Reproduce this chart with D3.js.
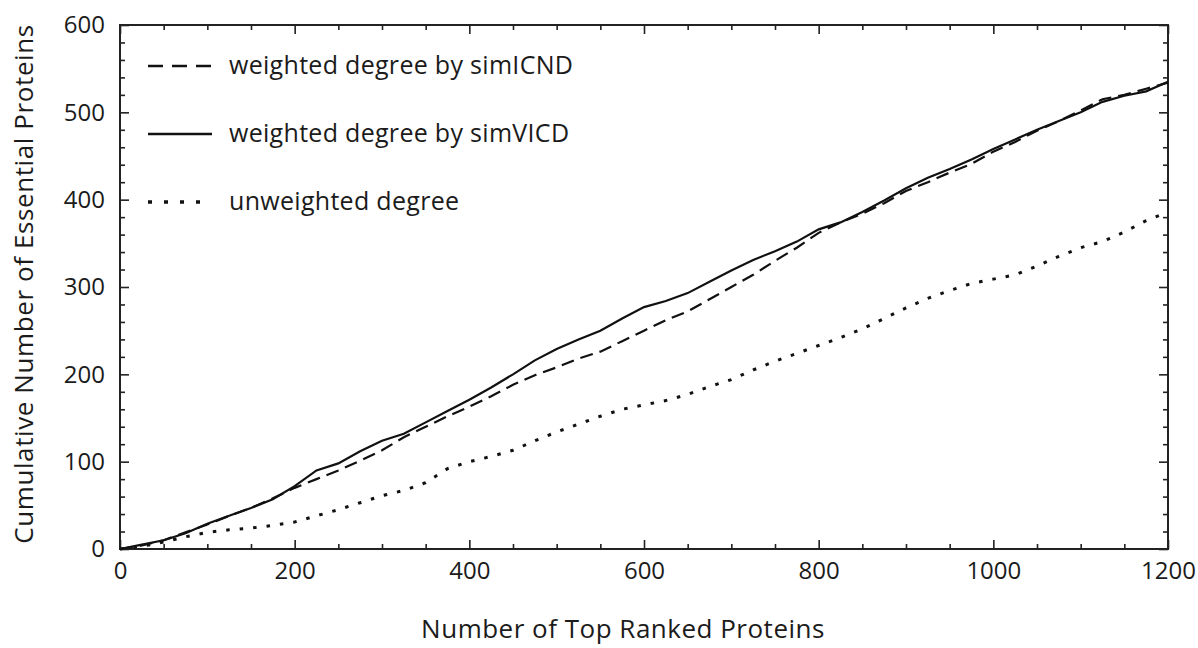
<!DOCTYPE html>
<html>
  <head>
    <meta charset="utf-8" />
    <title>cumulative essential proteins</title>
    <script src="https://cdn.jsdelivr.net/npm/d3@7"></script>
    <style type="text/css">
      body { margin: 0; background: #fff; }
      text { font-family: "Open Sans", "Noto Sans", sans-serif; fill: #1b1b1b; }
    </style>
  </head>

  <body>
    <svg id="chart" width="1198" height="648"></svg>
    <script type="text/javascript">
      // top ranked proteins (x)
      var ranks = [0, 25, 50, 75, 100, 125, 150, 175, 200, 225, 250, 275, 300, 325, 350, 375, 400,
        425, 450, 475, 500, 525, 550, 575, 600, 625, 650, 675, 700, 725, 750, 775, 800,
        825, 850, 875, 900, 925, 950, 975, 1000, 1025, 1050, 1075, 1100, 1125, 1150, 1175, 1200];

      // weighted degree by simICND (dashed)
      var simICND = [0, 4, 10, 19, 28, 38, 47, 58, 70, 80, 90, 101, 113, 128, 140, 152, 163,
        175, 188, 199, 208, 218, 226, 238, 250, 262, 272, 286, 300, 314, 330, 345, 362,
        374, 384, 396, 410, 420, 431, 441, 455, 466, 479, 490, 502, 515, 520, 527, 534];

      // weighted degree by simVICD (solid)
      var simVICD = [0, 5, 10, 18, 29, 38, 47, 57, 72, 90, 98, 112, 124, 132, 145, 158, 171,
        185, 200, 216, 229, 240, 250, 264, 277, 284, 293, 306, 319, 331, 341, 352, 366,
        374, 386, 399, 413, 425, 435, 446, 458, 469, 480, 490, 500, 512, 519, 524, 535];

      // unweighted degree (dotted)
      var unweighted = [0, 3, 8, 14, 19, 22, 24, 27, 31, 38, 45, 53, 61, 67, 76, 92, 100,
        106, 113, 124, 134, 143, 152, 160, 165, 170, 177, 186, 194, 205, 215, 224, 233,
        242, 252, 264, 276, 287, 296, 304, 309, 314, 324, 335, 345, 352, 363, 376, 386];

      var xMajor = [0, 200, 400, 600, 800, 1000, 1200];
      var yMajor = [0, 100, 200, 300, 400, 500, 600];

      var series = [
        { name: 'weighted degree by simICND', values: simICND, kind: 'dash' },
        { name: 'weighted degree by simVICD', values: simVICD, kind: 'solid' },
        { name: 'unweighted degree', values: unweighted, kind: 'dot' }
      ];

      var plotDash = { dash: '13,7', solid: null, dot: '3.5,10' };
      var keyDash = { dash: '15,9', solid: null, dot: '4,12' };
      var widths = { dash: 2.2, solid: 2.2, dot: 3 };

      var svg = d3.select('#chart');

      var x = d3.scaleLinear().domain([0, 1200]).range([120, 1168]);
      var y = d3.scaleLinear().domain([0, 600]).range([549, 25]);

      var xMinor = d3.range(0, 1201, 50).filter((d) => d % 200 !== 0);
      var yMinor = d3.range(0, 601, 20).filter((d) => d % 100 !== 0);

      function styleAxis(g) {
        g.select('.domain').remove();
        g.selectAll('line').attr('stroke', '#222').attr('stroke-width', 1.6);
      }

      // minor ticks, all four sides, pointing inward
      svg.append('g').attr('transform', 'translate(0,549)')
        .call(d3.axisBottom(x).tickValues(xMinor).tickSize(-5).tickFormat(''))
        .call(styleAxis);
      svg.append('g').attr('transform', 'translate(0,25)')
        .call(d3.axisTop(x).tickValues(xMinor).tickSize(-5).tickFormat(''))
        .call(styleAxis);
      svg.append('g').attr('transform', 'translate(120,0)')
        .call(d3.axisLeft(y).tickValues(yMinor).tickSize(-5).tickFormat(''))
        .call(styleAxis);
      svg.append('g').attr('transform', 'translate(1168,0)')
        .call(d3.axisRight(y).tickValues(yMinor).tickSize(-5).tickFormat(''))
        .call(styleAxis);

      // major ticks
      svg.append('g').attr('transform', 'translate(0,549)')
        .call(d3.axisBottom(x).tickValues(xMajor).tickSize(-9).tickPadding(13).tickFormat(d3.format('d')))
        .call(styleAxis)
        .selectAll('text').attr('font-size', 24);
      svg.append('g').attr('transform', 'translate(0,25)')
        .call(d3.axisTop(x).tickValues(xMajor).tickSize(-9).tickFormat(''))
        .call(styleAxis);
      svg.append('g').attr('transform', 'translate(120,0)')
        .call(d3.axisLeft(y).tickValues(yMajor).tickSize(-9).tickPadding(15).tickFormat(d3.format('d')))
        .call(styleAxis)
        .selectAll('text').attr('font-size', 24);
      svg.append('g').attr('transform', 'translate(1168,0)')
        .call(d3.axisRight(y).tickValues(yMajor).tickSize(-9).tickFormat(''))
        .call(styleAxis);

      // frame
      svg.append('rect')
        .attr('x', 120).attr('y', 25)
        .attr('width', 1168 - 120).attr('height', 549 - 25)
        .attr('fill', 'none').attr('stroke', '#222').attr('stroke-width', 2);

      var lineMaker = d3.line()
        .x((d, i) => x(ranks[i]))
        .y((d) => y(d));

      svg.append('g').selectAll('path')
        .data(series)
        .enter()
        .append('path')
        .attr('fill', 'none')
        .attr('stroke', '#111')
        .attr('stroke-width', (d) => widths[d.kind])
        .attr('stroke-dasharray', (d) => plotDash[d.kind])
        .attr('d', (d) => lineMaker(d.values));

      // legend
      var legend = svg.append('g').selectAll('g')
        .data(series)
        .enter()
        .append('g')
        .attr('transform', (d, i) => 'translate(148,' + (66 + i * 68) + ')');
      legend.append('line')
        .attr('x1', 0).attr('x2', 64)
        .attr('stroke', '#111')
        .attr('stroke-width', (d) => widths[d.kind] + 0.3)
        .attr('stroke-dasharray', (d) => keyDash[d.kind]);
      legend.append('text')
        .attr('x', 81).attr('y', 8)
        .attr('font-size', 25)
        .attr('letter-spacing', 0.3)
        .text((d) => d.name);

      // axis titles
      svg.append('text')
        .attr('x', 623).attr('y', 638)
        .attr('text-anchor', 'middle')
        .attr('font-size', 26)
        .attr('letter-spacing', 0.5)
        .text('Number of Top Ranked Proteins');
      svg.append('text')
        .attr('transform', 'translate(33,284) rotate(-90)')
        .attr('text-anchor', 'middle')
        .attr('font-size', 26)
        .attr('letter-spacing', 0.6)
        .text('Cumulative Number of Essential Proteins');
    </script>
  </body>
</html>
